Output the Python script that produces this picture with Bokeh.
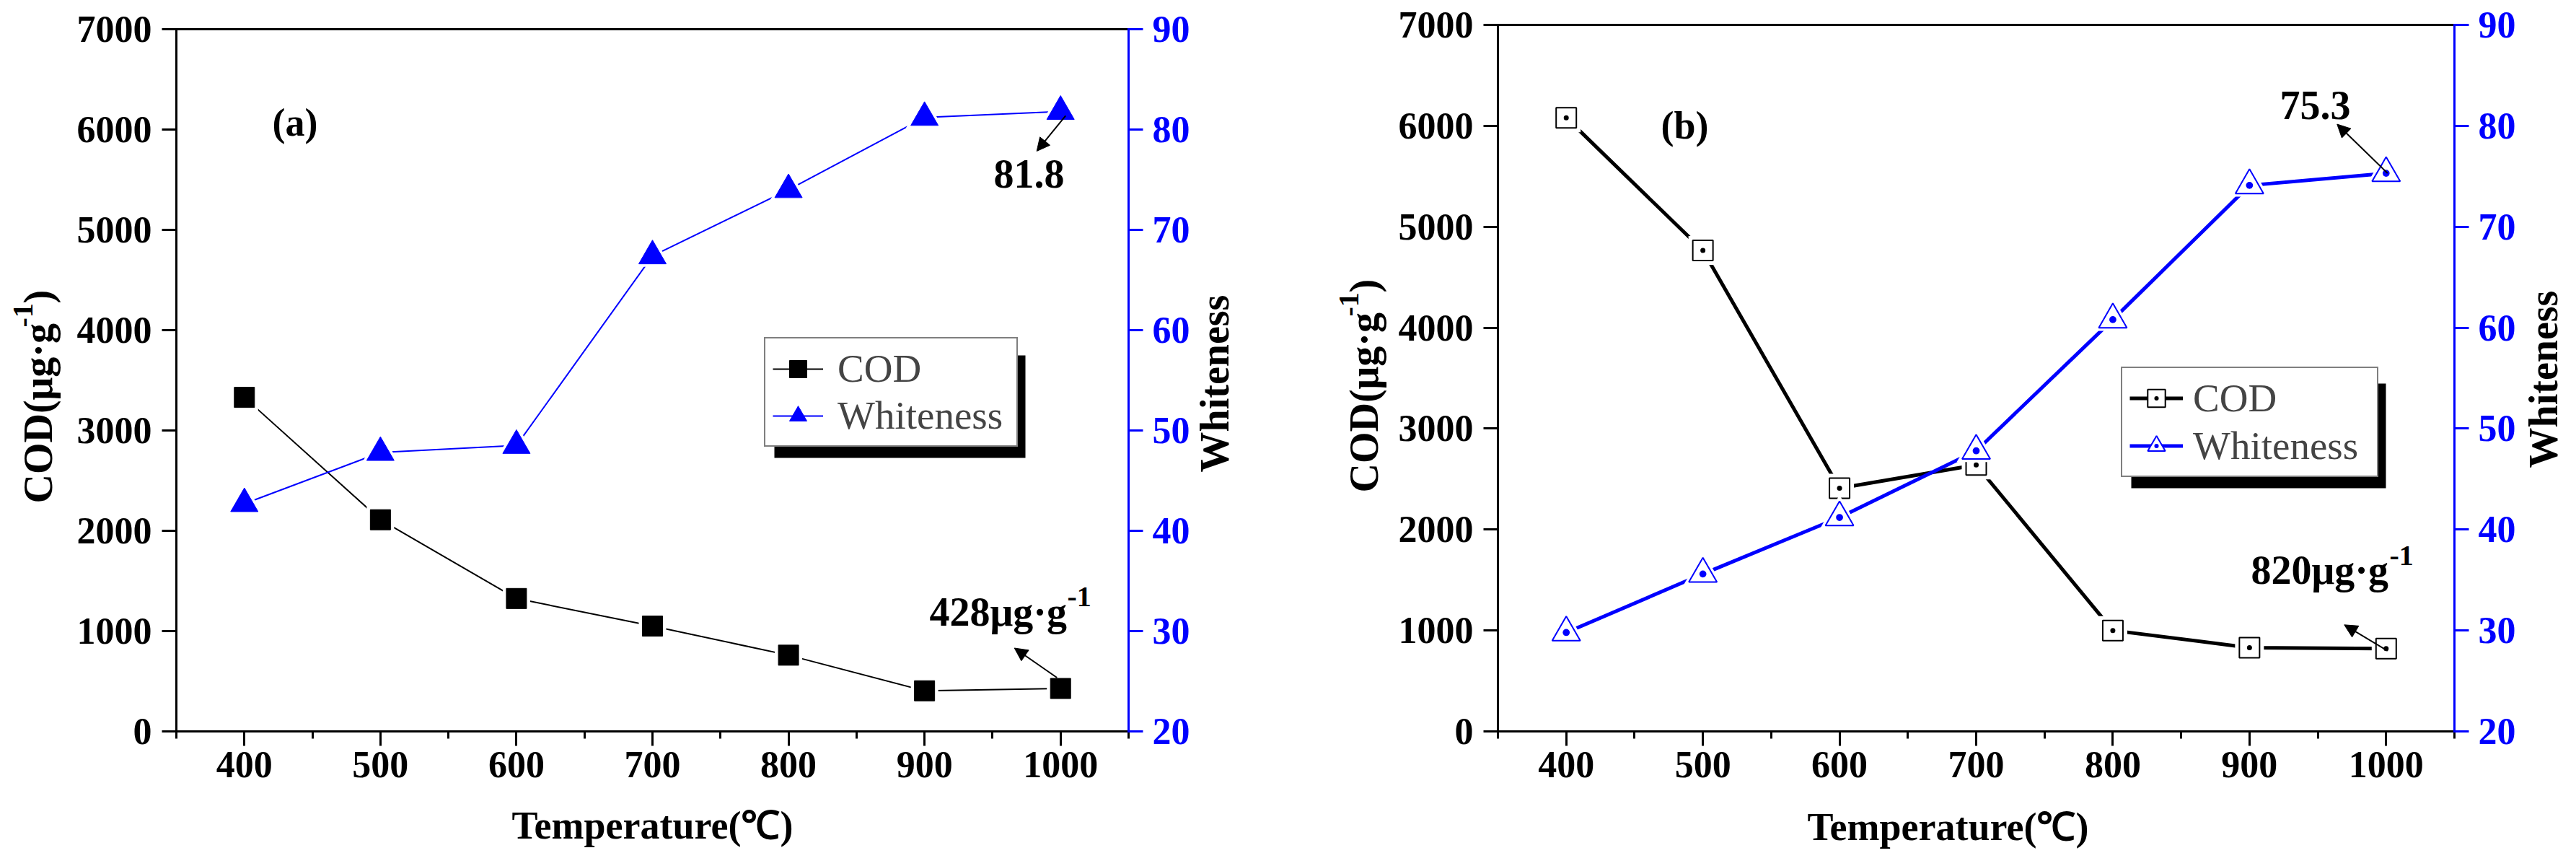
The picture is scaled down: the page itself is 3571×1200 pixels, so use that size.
import math

from bokeh.embed import file_html
from bokeh.resources import INLINE
from bokeh.plotting import figure
from bokeh.layouts import row
from bokeh.models import (Range1d, LinearAxis, FixedTicker, Legend, LegendItem,
                          Label, Arrow, NormalHead, BoxAnnotation)

# data
temps = [400, 500, 600, 700, 800, 900, 1000]
cod_a = [3330, 2110, 1325, 1050, 760, 405, 428]
white_a = [42.7, 47.8, 48.5, 67.4, 74.0, 81.2, 81.8]
cod_b = [6080, 4765, 2410, 2640, 1000, 830, 820]
white_b = [29.8, 35.6, 41.2, 47.8, 60.8, 74.1, 75.3]

x_major = [400, 500, 600, 700, 800, 900, 1000]
x_minor = [350, 450, 550, 650, 750, 850, 950, 1050]
cod_ticks = [0, 1000, 2000, 3000, 4000, 5000, 6000, 7000]
white_ticks = [20, 30, 40, 50, 60, 70, 80, 90]

FONT = "Liberation Serif"
BLUE = "#0000ff"
H = 1190      # figure height
TOP = 0       # page y of the figures' top edge


def style_axis(ax, color):
    ax.axis_line_width = 3
    ax.axis_line_color = color
    ax.axis_line_cap = "square"
    ax.major_tick_line_width = 3
    ax.major_tick_line_color = color
    ax.minor_tick_line_width = 3
    ax.minor_tick_line_color = color
    ax.major_tick_in = 0
    ax.major_tick_out = 20
    ax.minor_tick_in = 0
    ax.minor_tick_out = 10
    ax.major_label_text_font = FONT
    ax.major_label_text_font_style = "bold"
    ax.major_label_text_font_size = "52px"
    ax.major_label_text_color = color


def make_panel(page_x, width, fx0, fx1, fy1, cod, white, hollow, tag, texts):
    # the frame fills the whole figure; the axes sit at fixed data locations
    # so that every title and callout stays inside the (clipped) frame.
    # fx0/fx1: page x of T=350/1050, fy1: page y of COD=7000, fy0: page y of 0
    fy0 = 1013
    sx = (fx1 - fx0) / 700
    sy = (fy0 - fy1) / 7000
    sw = (fy0 - fy1) / 70

    def X(px):
        return 350 + (px - fx0) / sx

    def Y(py):
        return (fy0 - py) / sy

    def px_x(x):
        return fx0 + (x - 350) * sx

    def px_cod(v):
        return fy0 - v * sy

    def px_w(v):
        return fy0 - (v - 20) * sw

    p = figure(width=width, height=H,
               x_range=Range1d(X(page_x), X(page_x + width)),
               y_range=Range1d(Y(TOP + H), Y(TOP)),
               min_border=0, output_backend="svg", toolbar_location=None, tools="")
    p.extra_y_ranges = {"w": Range1d(20 - (TOP + H - fy0) / sw, 90 + (fy1 - TOP) / sw)}
    p.xgrid.visible = False
    p.ygrid.visible = False
    p.outline_line_color = None

    bax = p.xaxis[0]
    bax.ticker = FixedTicker(ticks=x_major, minor_ticks=x_minor)
    bax.fixed_location = 0
    bax.bounds = (350, 1050)
    style_axis(bax, "black")
    bax.major_label_standoff = 8

    lax = p.yaxis[0]
    lax.ticker = FixedTicker(ticks=cod_ticks)
    lax.fixed_location = 350
    lax.bounds = (0, 7000)
    style_axis(lax, "black")
    lax.major_label_standoff = 14

    rax = LinearAxis(y_range_name="w", ticker=FixedTicker(ticks=white_ticks),
                     fixed_location=1050, bounds=(20, 90))
    style_axis(rax, BLUE)
    rax.major_label_standoff = 13
    p.add_layout(rax, "right")

    tax = LinearAxis(ticker=FixedTicker(ticks=[]), fixed_location=7000, bounds=(350, 1050),
                     major_label_text_font_size="0px")
    style_axis(tax, "black")
    tax.major_tick_out = 0
    tax.minor_tick_out = 0
    p.add_layout(tax, "above")

    # Origin leaves a small white gap between each line and its symbols
    lw = 5 if hollow else 2
    cod_line = p.line(temps, cod, line_color="black", line_width=lw)
    if hollow:
        p.scatter(temps, cod, marker="square", size=40, fill_color="white", line_color=None)
        cod_pts = p.scatter(temps, cod, marker="square_dot", size=28, fill_color="white",
                            line_color="black", line_width=2)
    else:
        p.scatter(temps, cod, marker="square", size=38, fill_color="white", line_color=None)
        cod_pts = p.scatter(temps, cod, marker="square", size=28, fill_color="black",
                            line_color="black")
    w_line = p.line(temps, white, y_range_name="w", line_color=BLUE, line_width=lw)
    if hollow:
        p.scatter(temps, white, y_range_name="w", marker="triangle", size=54,
                  fill_color="white", line_color=None)
        w_pts = p.scatter(temps, white, y_range_name="w", marker="triangle_dot", size=39,
                          fill_color="white", line_color=BLUE, line_width=2)
    else:
        p.scatter(temps, white, y_range_name="w", marker="triangle", size=52,
                  fill_color="white", line_color=None)
        w_pts = p.scatter(temps, white, y_range_name="w", marker="triangle", size=38,
                          fill_color=BLUE, line_color=BLUE)

    # legend with Origin-style drop shadow
    lx0, ly0, lx1, ly1, glyph_w, standoff, glyph_h, spacing = texts["legend"]
    p.add_layout(BoxAnnotation(left=X(lx0 + 14), right=X(lx1 + 14), top=Y(ly0 + 15),
                               bottom=Y(ly1 + 15), fill_color="black", fill_alpha=1,
                               line_color=None))
    pad = 10
    leg = Legend(items=[LegendItem(label="COD", renderers=[cod_line, cod_pts]),
                        LegendItem(label="Whiteness", renderers=[w_line, w_pts])],
                 location=(lx0 - page_x, TOP + H - ly1), orientation="vertical", margin=0,
                 padding=pad, spacing=spacing, glyph_width=glyph_w, glyph_height=glyph_h,
                 label_standoff=standoff, label_width=(lx1 - lx0) - 2 * pad - glyph_w - standoff,
                 label_text_font=FONT, label_text_font_size="55px",
                 border_line_color="black", border_line_width=2,
                 background_fill_color="white", background_fill_alpha=1)
    p.add_layout(leg)

    def lab(px, py, text, size, angle=0, color="black", align="left"):
        # (px, py) is where the baseline starts; anchor on the text middle instead
        shift = 0.34 * size
        cx = px - shift * math.sin(angle)
        cy = py - shift * math.cos(angle)
        p.add_layout(Label(x=X(cx), y=Y(cy), text=text, text_font=FONT,
                           text_font_size=f"{size}px", text_font_style="bold",
                           text_color=color, text_align=align, text_baseline="middle",
                           angle=angle))

    # axis titles
    yb, ys, ysup, yparen = texts["ylabel"]
    lab(yb, ys, "COD(μg·g", 56, angle=math.pi / 2)
    lab(yb - 27, ysup, "-1", 40, angle=math.pi / 2)
    lab(yb, yparen, ")", 56, angle=math.pi / 2)
    wx, wy = texts["wlabel"]
    lab(wx, wy, "Whiteness", 56, angle=math.pi / 2, align="center")
    tx, ty = texts["xlabel"]
    lab(tx, ty, "Temperature(℃)", 54, align="center")

    # panel tag and value callouts
    gx, gy = texts["tag"]
    lab(gx, gy, tag, 54)
    (vx, vy), (cx, cy), (ux, uy) = texts["wval"], texts["cval"], texts["csup"]
    lab(vx, vy, f"{white[-1]:.1f}", 56)
    lab(cx, cy, f"{cod[-1]}μg·g", 56)
    lab(ux, uy, "-1", 40)

    head = dict(size=18, fill_color="black", line_color="black", line_width=1)
    (ws_dx, ws_dy), (wt_dx, wt_dy) = texts["warrow"]
    wpx, wpy = px_x(temps[-1]), px_w(white[-1])
    p.add_layout(Arrow(x_start=X(wpx + ws_dx), y_start=Y(wpy + ws_dy),
                       x_end=X(wpx + wt_dx), y_end=Y(wpy + wt_dy),
                       line_width=2, line_color="black", end=NormalHead(**head)))
    (cs_dx, cs_dy), (ct_dx, ct_dy) = texts["carrow"]
    cpx, cpy = px_x(temps[-1]), px_cod(cod[-1])
    p.add_layout(Arrow(x_start=X(cpx + cs_dx), y_start=Y(cpy + cs_dy),
                       x_end=X(cpx + ct_dx), y_end=Y(cpy + ct_dy),
                       line_width=2, line_color="black", end=NormalHead(**head)))
    return p


pa = make_panel(0, 1800, 244, 1564, 40, cod_a, white_a, False, "(a)", {
    "legend": (1059, 477, 1407, 619, 70, 20, 60, 2),
    "ylabel": (72, 697, 453, 420),
    "wlabel": (1703, 531),
    "xlabel": (904, 1162),
    "tag": (377, 188),
    "wval": (1377, 260),
    "cval": (1288, 867),
    "csup": (1479, 840),
    "warrow": ((7, 6), (-33, 55)),
    "carrow": ((-5, -15), (-64, -56)),
})

pb = make_panel(1800, 1760, 2076, 3402, 34, cod_b, white_b, True, "(b)", {
    "legend": (2940, 516, 3293, 661, 74, 14, 61, 3),
    "ylabel": (1910, 682, 438, 405),
    "wlabel": (3545, 525),
    "xlabel": (2700, 1164),
    "tag": (2302, 192),
    "wval": (3160, 165),
    "cval": (3120, 809),
    "csup": (3312, 783),
    "warrow": ((2, 0), (-68, -68)),
    "carrow": ((2, 3), (-58, -33)),
})

open("out.html", "w").write(file_html(row(pa, pb), INLINE))
